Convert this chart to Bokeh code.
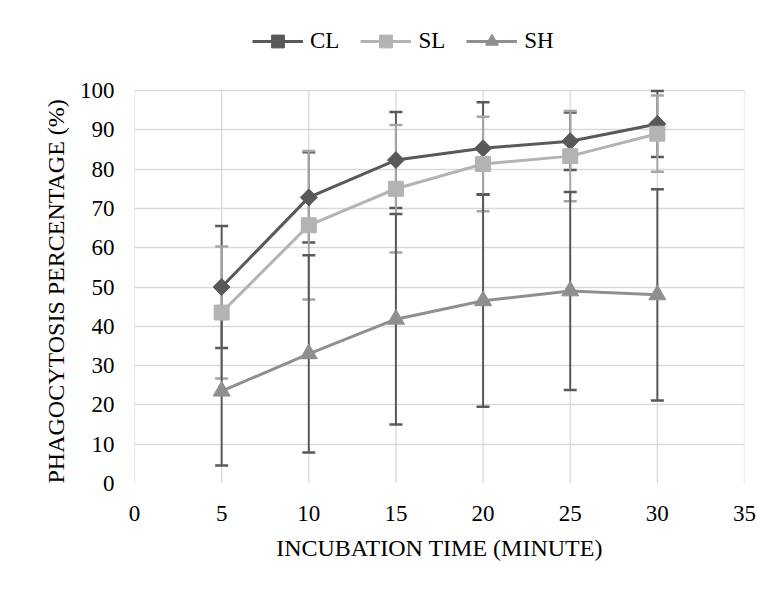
import math
from bokeh.plotting import figure
from bokeh.models import (ColumnDataSource, Whisker, TeeHead, Legend, LegendItem,
                          FixedTicker, Title)
from bokeh.embed import file_html
from bokeh.resources import INLINE

# ---- data ----
time_min = [5, 10, 15, 20, 25, 30]
cl = [50.0, 72.8, 82.3, 85.3, 87.1, 91.5]
cl_err = [15.5, 11.5, 12.2, 11.7, 7.3, 8.4]
sl = [43.5, 65.7, 75.0, 81.3, 83.3, 89.0]
sl_err = [16.8, 18.9, 16.2, 12.0, 11.5, 9.7]
sh = [23.5, 33.0, 41.8, 46.5, 49.0, 48.0]
sh_err = [18.9, 25.1, 26.8, 27.0, 25.2, 26.9]
x_ticks = [0, 5, 10, 15, 20, 25, 30, 35]
y_ticks = [0, 10, 20, 30, 40, 50, 60, 70, 80, 90, 100]

FONT = "Liberation Serif"
C_CL = "#595959"
C_SL = "#b3b3b3"
C_SH = "#8f8f8f"
C_ERR_DARK = "#595959"
C_ERR_LIGHT = "#a6a6a6"
GRID = "#d9d9d9"

Y_MAX = y_ticks[-1]
# frame extends above the value axis to host the legend (top of chart area)
y_top = Y_MAX * (483 - 15) / (483 - 90)

p = figure(width=770, height=590, output_backend="svg", toolbar_location=None,
           x_range=(x_ticks[0], x_ticks[-1]), y_range=(y_ticks[0], y_top),
           min_border_left=134, min_border_right=26, min_border_top=15,
           min_border_bottom=107)
p.outline_line_color = None
p.background_fill_color = "white"
p.border_fill_color = "white"

p.xgrid.visible = False
p.ygrid[0].ticker = FixedTicker(ticks=y_ticks)
p.ygrid[0].grid_line_color = GRID
p.ygrid[0].grid_line_width = 1.3
p.ygrid[0].level = "image"

vg = ColumnDataSource(dict(x=x_ticks, y0=[y_ticks[0]] * len(x_ticks),
                           y1=[Y_MAX] * len(x_ticks)))
p.segment(x0="x", y0="y0", x1="x", y1="y1", source=vg, line_color=GRID,
          line_width=1.3, level="image")

p.xaxis.ticker = FixedTicker(ticks=x_ticks)
p.yaxis.ticker = FixedTicker(ticks=y_ticks)
for ax in (p.xaxis[0], p.yaxis[0]):
    ax.axis_line_color = None
    ax.major_tick_line_color = None
    ax.minor_tick_line_color = None
    ax.major_tick_out = 0
    ax.major_tick_in = 0
    ax.minor_tick_out = 0
    ax.minor_tick_in = 0
    ax.major_label_text_font = FONT
    ax.major_label_text_font_size = "23px"
    ax.major_label_text_color = "#000000"
    ax.axis_label_text_font = FONT
    ax.axis_label_text_font_size = "24px"
    ax.axis_label_text_font_style = "normal"
    ax.axis_label_text_color = "#000000"
p.xaxis.axis_label = "INCUBATION TIME (MINUTE)"
p.xaxis.major_label_standoff = 22
p.yaxis.major_label_standoff = 20
p.xaxis.axis_label_standoff = 11

# y-axis title, aligned with the 0..100 value span (bottom of the frame)
p.add_layout(Title(text="PHAGOCYTOSIS PERCENTAGE (%)", align="left", offset=0,
                   vertical_align="middle", standoff=14, text_font=FONT,
                   text_font_size="24px", text_font_style="normal",
                   text_color="#000000"), "left")

def add_err(vals, errs, color):
    src = ColumnDataSource(dict(
        x=time_min,
        lower=[v - e for v, e in zip(vals, errs)],
        upper=[min(Y_MAX, v + e) for v, e in zip(vals, errs)],
    ))
    w = Whisker(source=src, base="x", lower="lower", upper="upper",
                line_color=color, line_width=2,
                upper_head=TeeHead(size=13, line_color=color, line_width=2.5),
                lower_head=TeeHead(size=13, line_color=color, line_width=2.5))
    p.add_layout(w)

add_err(cl, cl_err, C_ERR_DARK)
add_err(sl, sl_err, C_ERR_LIGHT)
add_err(sh, sh_err, C_ERR_DARK)

src = ColumnDataSource(dict(x=time_min, cl=cl, sl=sl, sh=sh))

l_cl = p.line("x", "cl", source=src, line_color=C_CL, line_width=3)
m_cl = p.scatter("x", "cl", source=src, marker="square", angle=math.pi / 4,
                 size=12, fill_color=C_CL, line_color=C_CL)
l_sl = p.line("x", "sl", source=src, line_color=C_SL, line_width=3)
m_sl = p.scatter("x", "sl", source=src, marker="square", size=15,
                 fill_color=C_SL, line_color=C_SL)
l_sh = p.line("x", "sh", source=src, line_color=C_SH, line_width=3)
m_sh = p.scatter("x", "sh", source=src, marker="triangle", size=17,
                 fill_color=C_SH, line_color=C_SH)

legend = Legend(items=[
    LegendItem(label="CL", renderers=[l_cl, m_cl]),
    LegendItem(label="SL", renderers=[l_sl, m_sl]),
    LegendItem(label="SH", renderers=[l_sh, m_sh]),
], location=(118, 426), orientation="horizontal", padding=0, margin=0,
    spacing=21, label_standoff=7, glyph_width=51, glyph_height=32,
    border_line_color=None, background_fill_alpha=0,
    label_text_font=FONT, label_text_font_size="23px", label_text_color="#000000")
p.add_layout(legend, "center")

open("out.html", "w").write(file_html(p, INLINE))
